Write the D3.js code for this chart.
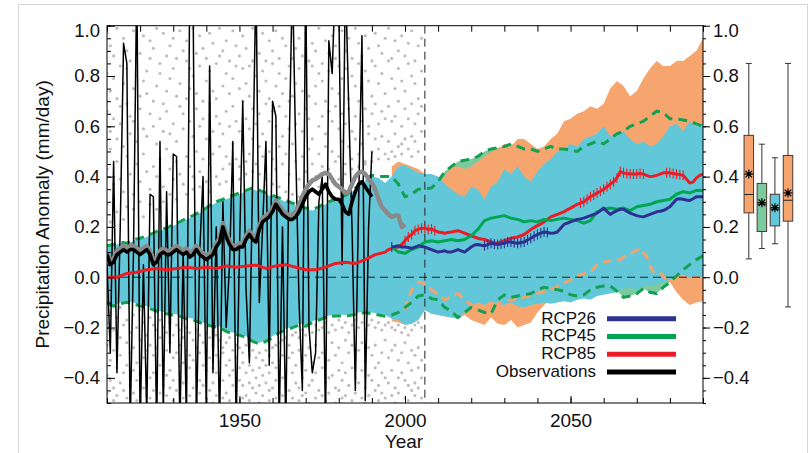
<!DOCTYPE html>
<html>
<head>
<meta charset="utf-8">
<script src="https://cdn.jsdelivr.net/npm/d3@7"></script>
<style>
  html, body { margin: 0; padding: 0; background: #fff; }
  svg { display: block; font-family: "Liberation Sans", Arial, Helvetica, sans-serif; }
</style>
</head>
<body>
<svg id="chart" width="810" height="453"></svg>
<script>
// ---------------- data ----------------
const yTickLabels = [-0.4, -0.2, 0.0, 0.2, 0.4, 0.6, 0.8, 1.0];
const xTickLabels = [1950, 2000, 2050];
const projectionStart = 2006;

// Individual model years (hundredths of mm/day), one string per year from 1910
const dotStart = 1910;
const dotColumns = [
  "97 81 66 43 29 -18 -27 -39 -46", "92 74 58 51 22 -14 -33 -41", "88 79 63 37 31 -21 -29 -44 -49",
  "99 71 55 46 26 -16 -36 -47", "84 68 61 39 -12 -24 -31 -42", "95 77 52 34 23 -19 -38 -45",
  "90 83 69 48 28 -17 -26 -35 -48", "86 64 57 41 -22 -30 -43", "98 75 62 33 27 -15 -28 -37 -46",
  "93 80 54 45 -20 -34 -41 -49", "89 72 67 38 30 -13 -25 -39", "96 78 59 49 24 -18 -32 -44",
  "82 73 56 42 -23 -29 -36 -47", "94 87 65 35 29 -16 -27 -40 -48", "91 70 60 44 -19 -31 -38 -45",
  "99 76 53 40 27 -21 -28 -42", "85 81 63 47 -17 -24 -35 -46 -50", "97 69 58 36 30 -20 -33 -43",
  "88 74 66 51 -22 -29 -39 -47", "92 79 57 43 33 -18 -26 -37 -44", "95 83 61 39 -23 -32 -41 -49",
  "87 72 54 46 31 -19 -30 -45", "98 77 68 41 -21 -27 -38 -46", "90 65 59 37 -24 -34 -42 -48",
  "94 86 71 48 33 -20 -29 -40", "83 75 62 44 -22 -31 -36 -47", "99 80 56 40 35 -25 -33 -44",
  "89 73 67 50 -21 -28 -39 -49", "96 84 60 42 36 -23 -30 -41 -46", "91 70 63 47 -26 -35 -43",
  "87 78 55 38 -22 -29 -37 -48", "97 82 69 45 34 -24 -32 -45", "93 74 58 49 -27 -36 -42 -50",
  "85 71 64 40 -23 -31 -38 -47", "99 88 61 52 37 -25 -34 -44", "90 76 57 43 -28 -30 -41 -48",
  "94 81 66 48 38 -26 -35 -46", "86 73 60 45 -24 -33 -39 -49", "98 79 68 53 40 -29 -37 -43",
  "92 84 62 47 -27 -32 -45 -50", "88 75 58 44 39 -28 -36 -41", "96 83 70 50 -30 -34 -43 -48",
  "91 77 63 46 41 -27 -38 -47", "84 72 59 49 -31 -35 -42 -49", "99 86 67 55 42 -29 -37 -44",
  "93 80 61 45 -32 -40 -46", "89 74 65 52 41 -30 -36 -43 -50", "97 82 57 48 -33 -39 -47",
  "86 78 69 44 39 -29 -35 -42", "94 71 62 50 -31 -38 -45 -49", "90 85 66 47 37 -28 -34 -44",
  "98 76 60 43 -27 -36 -41 -48", "87 81 68 52 36 -26 -33 -46", "95 73 56 45 -25 -31 -40 -47",
  "92 79 64 49 34 -24 -37 -43 -50", "84 70 59 41 -27 -32 -45", "99 87 72 53 33 -23 -30 -38 -48",
  "91 77 61 46 -22 -35 -42", "95 83 65 39 32 -24 -29 -44 -49", "88 74 58 48 -21 -33 -40 -47",
  "97 80 67 42 34 -23 -31 -37 -46", "86 72 63 51 -20 -28 -43 -50", "93 84 55 45 35 -22 -34 -41",
  "90 76 69 40 -19 -27 -38 -48", "99 81 60 49 36 -21 -32 -45", "85 78 64 44 -20 -30 -36 -47",
  "94 70 57 52 37 -18 -29 -42 -49", "89 82 66 43 -22 -33 -40 -46", "96 75 62 50 38 -19 -26 -39",
  "92 87 68 46 -21 -31 -44 -50", "84 73 59 48 39 -17 -28 -37 -45", "98 79 65 54 -20 -34 -41 -48",
  "90 83 61 45 41 -18 -25 -38 -47", "95 71 67 52 -22 -30 -43", "87 80 58 47 43 -19 -27 -36 -49",
  "99 76 64 55 -17 -32 -40 -46", "93 85 70 49 44 -20 -29 -42", "88 74 62 53 -18 -26 -37 -48",
  "96 82 67 46 45 -21 -33 -44 -50", "91 78 60 57 -19 -28 -39 -47", "86 72 65 50 46 -17 -31 -41",
  "97 84 69 55 -20 -27 -36 -45", "92 77 61 51 47 -18 -34 -43 -49", "89 81 66 56 -21 -30 -38 -46",
  "95 73 63 49 -19 -25 -40 -48", "99 86 68 54 47 -18 -32 -42", "87 79 62 50 -20 -29 -37 -47",
  "94 75 64 57 48 -21 -27 -44 -50", "90 83 70 52 -19 -33 -40 -46", "96 78 60 53 49 -22 -30 -38",
  "88 74 67 55 -20 -26 -41 -48", "93 85 63 51 -23 -34 -43 -49", "98 80 69 56 48 -21 -29 -37 -45",
  "86 77 61 54 -19 -31 -42 -47", "92 71 65 50 -18 -28 -36 -44", "95 82 68 58 -20 -33 -40 -48"
];

// Ensemble ranges, two-year steps from 1910 to 2090
const bandStart = 1910, bandStep = 2;
const rcp26Hi = [0.12,0.125,0.135,0.13,0.145,0.15,0.16,0.17,0.185,0.19,0.205,0.215,0.23,0.24,0.255,0.27,0.29,0.30,0.31,0.32,
  0.33,0.34,0.35,0.34,0.33,0.32,0.31,0.30,0.29,0.28,0.27,0.265,0.275,0.29,0.30,0.31,0.32,0.34,0.36,0.385,
  0.40,0.395,0.375,0.40,0.44,0.445,0.43,0.415,0.41,0.41,0.40,0.37,0.35,0.33,0.32,0.36,0.35,0.31,0.36,0.38,
  0.43,0.41,0.44,0.40,0.38,0.42,0.45,0.47,0.50,0.51,0.53,0.52,0.55,0.56,0.57,0.60,0.56,0.57,0.58,0.55,
  0.53,0.54,0.52,0.53,0.56,0.60,0.61,0.58,0.62,0.60,0.61];
const rcp26Lo = [-0.10,-0.11,-0.10,-0.095,-0.10,-0.11,-0.115,-0.125,-0.135,-0.14,-0.145,-0.15,-0.16,-0.165,-0.175,-0.185,-0.19,-0.195,-0.21,-0.22,
  -0.225,-0.235,-0.25,-0.26,-0.25,-0.235,-0.215,-0.205,-0.195,-0.185,-0.19,-0.175,-0.165,-0.155,-0.15,-0.148,-0.15,-0.145,-0.14,-0.135,
  -0.14,-0.145,-0.15,-0.165,-0.17,-0.19,-0.185,-0.17,-0.13,-0.145,-0.15,-0.155,-0.16,-0.165,-0.14,-0.115,-0.10,-0.11,-0.095,-0.105,
  -0.11,-0.10,-0.115,-0.12,-0.11,-0.105,-0.10,-0.105,-0.10,-0.095,-0.10,-0.09,-0.085,-0.09,-0.075,-0.07,-0.065,-0.06,-0.045,-0.04,
  -0.05,-0.035,-0.035,-0.025,-0.02,-0.01,0.005,0.01,0.0,0.005,0.0];
const rcp45Hi = [0.125,0.13,0.14,0.135,0.15,0.155,0.165,0.175,0.19,0.195,0.21,0.22,0.235,0.245,0.26,0.275,0.295,0.305,0.315,0.325,
  0.335,0.345,0.355,0.345,0.335,0.325,0.315,0.305,0.295,0.285,0.275,0.27,0.28,0.295,0.305,0.315,0.325,0.345,0.365,0.39,
  0.405,0.40,0.40,0.40,0.37,0.32,0.33,0.35,0.35,0.355,0.38,0.42,0.44,0.46,0.465,0.47,0.48,0.50,0.51,0.515,
  0.52,0.53,0.52,0.51,0.51,0.50,0.51,0.52,0.51,0.51,0.505,0.50,0.52,0.53,0.54,0.53,0.55,0.57,0.58,0.60,
  0.61,0.62,0.64,0.66,0.655,0.63,0.63,0.625,0.62,0.61,0.60];
const rcp45Lo = [-0.105,-0.115,-0.105,-0.10,-0.105,-0.115,-0.12,-0.13,-0.14,-0.145,-0.15,-0.155,-0.165,-0.17,-0.18,-0.19,-0.195,-0.20,-0.215,-0.225,
  -0.23,-0.24,-0.255,-0.265,-0.255,-0.24,-0.22,-0.21,-0.20,-0.19,-0.195,-0.18,-0.17,-0.16,-0.155,-0.153,-0.155,-0.15,-0.145,-0.14,
  -0.145,-0.15,-0.155,-0.15,-0.14,-0.12,-0.10,-0.075,-0.07,-0.085,-0.09,-0.12,-0.135,-0.16,-0.14,-0.12,-0.13,-0.14,-0.145,-0.09,
  -0.07,-0.08,-0.075,-0.07,-0.065,-0.05,-0.04,-0.045,-0.05,-0.055,-0.07,-0.075,-0.07,-0.05,-0.04,-0.035,-0.035,-0.055,-0.08,-0.075,
  -0.065,-0.045,-0.06,-0.065,-0.04,-0.02,0.005,0.03,0.05,0.07,0.085];
// RCP8.5 range from 1996 to 2090 (two-year steps)
const rcp85Start = 1996;
const rcp85Hi = [0.44,0.46,0.45,0.44,0.43,0.41,0.39,0.38,0.40,0.44,0.44,0.43,0.44,0.46,0.48,0.50,0.51,0.53,0.52,0.55,
  0.55,0.53,0.51,0.52,0.55,0.57,0.62,0.63,0.65,0.66,0.68,0.67,0.69,0.75,0.78,0.76,0.72,0.74,0.79,0.83,
  0.86,0.84,0.84,0.86,0.86,0.88,0.90,0.95];
const rcp85Lo = [-0.175,-0.18,-0.19,-0.185,-0.17,-0.13,-0.145,-0.15,-0.155,-0.16,-0.165,-0.15,-0.17,-0.18,-0.19,-0.16,-0.185,-0.19,-0.17,-0.20,
  -0.19,-0.18,-0.14,-0.11,-0.09,-0.085,-0.08,-0.07,-0.07,-0.06,-0.06,-0.055,-0.05,-0.045,-0.04,-0.03,-0.03,-0.03,-0.025,-0.02,
  -0.015,-0.005,-0.02,-0.06,-0.09,-0.11,-0.10,-0.095];
// Secondary RCP8.5 bound (dashed)
const rcp85DashYears = [2000,2001,2002,2003,2004,2005,2006,2008,2010,2012,2014,2016,2018,2020,2023,2026,2029,2032,2035,2038,2041,2044,2047,2050,2053,2056,2058,2060,2063,2065,2067,2069,2071,2073,2075,2077,2079];
const rcp85DashVals = [-0.13,-0.09,-0.05,-0.03,-0.02,-0.02,-0.03,-0.05,-0.07,-0.09,-0.075,-0.065,-0.09,-0.11,-0.13,-0.12,-0.10,-0.09,-0.085,-0.07,-0.06,-0.05,-0.03,-0.01,0.01,0.02,0.05,0.06,0.07,0.07,0.09,0.10,0.115,0.08,0.02,0.02,-0.01];

// Multi-model means
const meanRcp85 = [[1910,0.0],[1913,0.0],[1916,0.015],[1919,0.02],[1922,0.03],[1925,0.035],[1928,0.03],[1931,0.035],[1934,0.04],[1937,0.035],
  [1940,0.04],[1943,0.035],[1946,0.045],[1949,0.04],[1952,0.045],[1955,0.048],[1958,0.035],[1961,0.045],[1964,0.05],[1967,0.04],
  [1970,0.03],[1973,0.03],[1976,0.04],[1979,0.055],[1982,0.06],[1985,0.055],[1988,0.07],[1991,0.09],[1994,0.10],[1995,0.11],
  [1996,0.115],[1997,0.118],[1998,0.12],[1999,0.13],[2000,0.145],[2001,0.16],[2002,0.17],[2003,0.185],[2004,0.19],[2005,0.195],
  [2006,0.195],[2007,0.19],[2008,0.192],[2009,0.185],[2010,0.18],[2011,0.178],[2012,0.175],[2013,0.178],[2014,0.18],[2015,0.183],
  [2016,0.185],[2017,0.18],[2018,0.175],[2019,0.17],[2020,0.165],[2021,0.16],[2022,0.155],[2023,0.152],[2024,0.15],[2025,0.145],
  [2026,0.14],[2027,0.137],[2028,0.135],[2029,0.14],[2030,0.145],[2031,0.15],[2032,0.155],[2033,0.158],[2034,0.16],[2035,0.165],
  [2036,0.17],[2037,0.18],[2038,0.19],[2039,0.198],[2040,0.205],[2041,0.212],[2042,0.22],[2043,0.23],[2044,0.24],[2045,0.245],
  [2046,0.25],[2047,0.255],[2048,0.26],[2049,0.268],[2050,0.275],[2051,0.282],[2052,0.29],[2053,0.295],[2054,0.30],[2055,0.31],
  [2056,0.32],[2057,0.327],[2058,0.335],[2059,0.342],[2060,0.35],[2061,0.36],[2062,0.37],[2063,0.38],[2064,0.395],[2065,0.42],
  [2066,0.415],[2067,0.412],[2068,0.41],[2069,0.41],[2070,0.41],[2071,0.412],[2072,0.41],[2073,0.405],[2074,0.40],[2075,0.402],
  [2076,0.405],[2077,0.41],[2078,0.415],[2079,0.415],[2080,0.415],[2081,0.412],[2082,0.41],[2083,0.408],[2084,0.405],[2085,0.39],
  [2086,0.375],[2087,0.378],[2088,0.395],[2089,0.405],[2090,0.41]];
const meanRcp26 = [[1996,0.12],[1997,0.122],[1998,0.125],[1999,0.12],[2000,0.12],[2001,0.118],[2002,0.115],[2003,0.12],[2004,0.125],[2005,0.122],
  [2006,0.12],[2007,0.115],[2008,0.11],[2009,0.105],[2010,0.10],[2011,0.102],[2012,0.105],[2013,0.10],[2014,0.10],[2015,0.105],
  [2016,0.11],[2017,0.105],[2018,0.10],[2019,0.11],[2020,0.12],[2021,0.128],[2022,0.13],[2023,0.127],[2024,0.125],[2025,0.13],
  [2026,0.135],[2027,0.132],[2028,0.13],[2029,0.133],[2030,0.135],[2031,0.14],[2032,0.14],[2033,0.137],[2034,0.135],[2035,0.138],
  [2036,0.14],[2037,0.148],[2038,0.155],[2039,0.163],[2040,0.17],[2041,0.175],[2042,0.18],[2043,0.178],[2044,0.175],[2045,0.176],
  [2046,0.18],[2047,0.195],[2048,0.21],[2049,0.215],[2050,0.22],[2051,0.225],[2052,0.23],[2053,0.232],[2054,0.235],[2055,0.24],
  [2056,0.245],[2057,0.25],[2058,0.255],[2059,0.265],[2060,0.275],[2061,0.262],[2062,0.25],[2063,0.258],[2064,0.265],[2065,0.27],
  [2066,0.27],[2067,0.262],[2068,0.255],[2069,0.25],[2070,0.245],[2071,0.242],[2072,0.24],[2073,0.245],[2074,0.25],[2075,0.255],
  [2076,0.26],[2077,0.262],[2078,0.265],[2079,0.272],[2080,0.28],[2081,0.295],[2082,0.31],[2083,0.312],[2084,0.31],[2085,0.307],
  [2086,0.305],[2087,0.312],[2088,0.32],[2089,0.32],[2090,0.32]];
const meanRcp45 = [[1996,0.12],[1998,0.10],[2000,0.095],[2002,0.11],[2004,0.12],[2006,0.14],[2008,0.145],[2010,0.14],[2012,0.145],[2014,0.15],
  [2016,0.145],[2018,0.15],[2020,0.165],[2022,0.19],[2024,0.225],[2026,0.235],[2028,0.24],[2030,0.245],[2032,0.235],[2034,0.23],
  [2036,0.22],[2038,0.225],[2040,0.22],[2042,0.23],[2044,0.225],[2046,0.23],[2048,0.235],[2050,0.23],[2052,0.225],[2054,0.215],
  [2056,0.225],[2058,0.26],[2060,0.27],[2062,0.275],[2064,0.27],[2066,0.275],[2068,0.265],[2070,0.28],[2072,0.285],[2074,0.29],
  [2076,0.30],[2078,0.305],[2080,0.31],[2082,0.33],[2084,0.34],[2086,0.335],[2088,0.345],[2090,0.345]];
// Years where the mean change is significant (+ markers)
const rcp85Significant = [[2000,2009],[2053,2072],[2079,2084]];
const rcp26Significant = [[1996,1996],[2024,2043]];

// Observations, annual from 1910
const obsStart = 1910;
const obsAnnual = [0.05,-0.30,0.46,-0.38,0.20,0.93,0.85,-0.60,0.10,1.20,
  -0.60,0.05,-0.55,0.33,0.32,-0.62,0.54,-0.55,0.34,-0.30,
  0.49,0.48,-0.60,0.10,-0.58,1.20,1.10,-0.58,0.10,0.40,
  -0.55,0.84,-0.38,0.20,-0.60,0.30,-0.20,0.05,0.54,-0.60,
  0.10,0.70,-0.05,-0.34,0.40,1.20,-0.10,0.20,0.54,-0.35,
  0.70,0.64,-0.60,0.20,-0.60,0.50,1.20,0.50,-0.10,-0.45,
  1.20,-0.20,-0.38,-0.30,0.30,0.40,-0.60,0.94,0.81,1.20,
  1.10,0.05,1.20,0.68,0.20,-0.45,0.30,0.96,-0.49,0.20,0.50];
const obsSmooth = [0.09,0.05,0.06,0.09,0.10,0.11,0.10,0.11,0.11,0.10,
  0.09,0.10,0.11,0.09,0.05,0.06,0.09,0.10,0.09,0.09,
  0.10,0.11,0.10,0.09,0.10,0.08,0.09,0.11,0.09,0.08,
  0.07,0.08,0.09,0.12,0.14,0.20,0.16,0.13,0.11,0.11,
  0.12,0.12,0.15,0.17,0.15,0.14,0.19,0.22,0.23,0.24,
  0.26,0.29,0.27,0.25,0.24,0.23,0.23,0.24,0.26,0.29,
  0.32,0.34,0.35,0.34,0.33,0.35,0.37,0.34,0.32,0.31,
  0.31,0.29,0.26,0.25,0.30,0.34,0.37,0.38,0.36,0.34,0.32];
const obsSmoothAlt = [0.10,0.065,0.075,0.105,0.115,0.125,0.115,0.125,0.125,0.115,
  0.105,0.115,0.125,0.105,0.07,0.075,0.105,0.115,0.105,0.105,
  0.115,0.125,0.115,0.105,0.115,0.095,0.105,0.125,0.105,0.095,
  0.085,0.095,0.105,0.135,0.155,0.215,0.175,0.145,0.125,0.125,
  0.135,0.135,0.165,0.185,0.165,0.155,0.205,0.235,0.245,0.255,
  0.275,0.305,0.285,0.265,0.255,0.245,0.25,0.26,0.29,0.32,
  0.35,0.37,0.385,0.39,0.40,0.41,0.415,0.41,0.39,0.37,
  0.36,0.35,0.335,0.34,0.37,0.40,0.415,0.42,0.41,0.39,
  0.375,0.35,0.31,0.28,0.265,0.25,0.24,0.245,0.245,0.20,0.21];

// Box plots of the late-century change
const boxNames = ["RCP85", "RCP45", "RCP26", "Models"];
const boxLow = [0.073, 0.114, 0.133, -0.118];
const boxQ1 = [0.256, 0.182, 0.204, 0.223];
const boxMedian = [0.329, 0.29, 0.27, 0.306];
const boxQ3 = [0.564, 0.373, 0.330, 0.484];
const boxHigh = [0.85, 0.529, 0.475, 0.85];
const boxMean = [0.41, 0.296, 0.276, 0.335];

const legendNames = ["RCP26", "RCP45", "RCP85", "Observations"];

// ---------------- styles ----------------
const C = {
  cyan: "#62c8d9", orange: "#f7a56f", greenFill: "#7ccaa0",
  green: "#00a651", blue: "#2e3192", red: "#ed1c24", black: "#000",
  grayLine: "#8a8a8a", dot: "#bdbdbd", orangeDash: "#f4a26c", greenDash: "#12a150"
};
const legendColors = [C.blue, C.green, C.red, C.black];
const boxFill = [C.orange, C.greenFill, C.cyan, C.orange];

// ---------------- layout ----------------
const svg = d3.select("#chart");
const M = { left: 107, right: 703, top: 25.7, bottom: 403 };
const x = d3.scaleLinear().domain([1910, 2090]).range([M.left, M.right]);
const y = d3.scaleLinear().domain([-0.5, 1.0]).range([M.bottom, M.top]);

// outer light frame
svg.append("rect").attr("x", 18.5).attr("y", 4.5).attr("width", 789).attr("height", 480)
  .attr("fill", "none").attr("stroke", "#d6d6d6").attr("stroke-width", 1);

svg.append("clipPath").attr("id", "plotClip").append("rect")
  .attr("x", M.left).attr("y", M.top).attr("width", M.right - M.left).attr("height", M.bottom - M.top);
const plot = svg.append("g").attr("clip-path", "url(#plotClip)");

// gray model dots
const dots = [];
dotColumns.forEach((s, i) => s.split(" ").forEach(v => dots.push([dotStart + i, +v / 100])));
plot.append("g").selectAll("circle").data(dots).join("circle")
  .attr("cx", d => x(d[0])).attr("cy", d => y(d[1])).attr("r", 1.55).attr("fill", C.dot);

// ranges
const band = rcp26Hi.map((h, i) => ({ yr: bandStart + i * bandStep, lo: rcp26Lo[i], hi: h, lo45: rcp45Lo[i], hi45: rcp45Hi[i] }));
const band85 = rcp85Hi.map((h, i) => ({ yr: rcp85Start + i * bandStep, lo: rcp85Lo[i], hi: h }));

plot.append("path").datum(band.filter(d => d.yr >= 1996))
  .attr("fill", C.greenFill)
  .attr("d", d3.area().x(d => x(d.yr)).y0(d => y(d.lo45)).y1(d => y(d.hi45)));
plot.append("path").datum(band85)
  .attr("fill", C.orange)
  .attr("d", d3.area().x(d => x(d.yr)).y0(d => y(d.lo)).y1(d => y(d.hi)));
plot.append("path").datum(band)
  .attr("fill", C.cyan)
  .attr("d", d3.area().x(d => x(d.yr)).y0(d => y(d.lo)).y1(d => y(d.hi)));

// dashed range edges
const line = d3.line().x(d => x(d[0])).y(d => y(d[1]));
plot.append("path").datum(rcp85DashYears.map((yr, i) => [yr, rcp85DashVals[i]]))
  .attr("fill", "none").attr("stroke", C.orangeDash).attr("stroke-width", 3)
  .attr("stroke-dasharray", "9,6").attr("d", line);
["hi45", "lo45"].forEach(k => {
  plot.append("path").datum(band.map(d => [d.yr, d[k]]))
    .attr("fill", "none").attr("stroke", C.greenDash).attr("stroke-width", 3)
    .attr("stroke-dasharray", "9,6").attr("d", line);
});

// reference lines
plot.append("line").attr("x1", x(1910)).attr("x2", x(2090)).attr("y1", y(0)).attr("y2", y(0))
  .attr("stroke", "#222").attr("stroke-width", 1).attr("stroke-dasharray", "8,5");
plot.append("line").attr("x1", x(projectionStart)).attr("x2", x(projectionStart)).attr("y1", M.top).attr("y2", M.bottom)
  .attr("stroke", "#222").attr("stroke-width", 1).attr("stroke-dasharray", "8,5");

// observations, annual
plot.append("path").datum(obsAnnual.map((v, i) => [obsStart + i, v]))
  .attr("fill", "none").attr("stroke", C.black).attr("stroke-width", 1.5).attr("stroke-linejoin", "round").attr("d", line);

// multi-model means
function meanLine(data, color, sig) {
  plot.append("path").datum(data).attr("fill", "none").attr("stroke", color)
    .attr("stroke-width", 3).attr("stroke-linejoin", "round").attr("d", line);
  if (sig) {
    const pts = data.filter(d => sig.some(r => d[0] >= r[0] && d[0] <= r[1]));
    plot.append("g").selectAll("line").data(pts).join("line")
      .attr("x1", d => x(d[0])).attr("x2", d => x(d[0]))
      .attr("y1", d => y(d[1]) - 5).attr("y2", d => y(d[1]) + 5)
      .attr("stroke", color).attr("stroke-width", 1.1);
  }
}
meanLine(meanRcp85, C.red, rcp85Significant);
meanLine(meanRcp45, C.green, null);
meanLine(meanRcp26, C.blue, rcp26Significant);

// observations, smoothed
plot.append("path").datum(obsSmoothAlt.map((v, i) => [obsStart + i, v]))
  .attr("fill", "none").attr("stroke", C.grayLine).attr("stroke-width", 4.5).attr("stroke-linejoin", "round").attr("d", line);
plot.append("path").datum(obsSmooth.map((v, i) => [obsStart + i, v]))
  .attr("fill", "none").attr("stroke", C.black).attr("stroke-width", 3.6).attr("stroke-linejoin", "round").attr("d", line);

// ---------------- axes ----------------
const fmt = d3.format(".1f");
const minorY = d3.range(-10, 21).map(k => k * 0.05);
const decades = d3.range(1910, 2091, 10);

function styleAxis(g) {
  g.select(".domain").remove();
  g.selectAll("line").attr("stroke", "#000").attr("stroke-width", 1);
  g.selectAll("text").attr("fill", "#111").style("font-size", "18.5px").style("font-family", "'Liberation Sans', Arial, sans-serif");
}
// left
svg.append("g").attr("transform", `translate(${M.left},0)`)
  .call(d3.axisLeft(y).tickValues(minorY).tickSize(-4).tickFormat("")).call(styleAxis);
svg.append("g").attr("transform", `translate(${M.left},0)`)
  .call(d3.axisLeft(y).tickValues(yTickLabels).tickSize(-8).tickPadding(7).tickFormat(fmt)).call(styleAxis)
  .selectAll("text").filter(d => d === 1.0).attr("dy", "0.6em");
// right
svg.append("g").attr("transform", `translate(${M.right},0)`)
  .call(d3.axisRight(y).tickValues(minorY).tickSize(3).tickFormat("")).call(styleAxis);
svg.append("g").attr("transform", `translate(${M.right},0)`)
  .call(d3.axisRight(y).tickValues(yTickLabels).tickSize(7).tickPadding(3).tickFormat(fmt)).call(styleAxis)
  .selectAll("text").filter(d => d === 1.0).attr("dy", "0.6em");
// bottom & top
svg.append("g").attr("transform", `translate(0,${M.bottom})`)
  .call(d3.axisBottom(x).tickValues(decades).tickSize(-5).tickFormat("")).call(styleAxis);
svg.append("g").attr("transform", `translate(0,${M.bottom})`)
  .call(d3.axisBottom(x).tickValues(xTickLabels).tickSize(-7).tickPadding(11).tickFormat(d3.format("d"))).call(styleAxis)
  .selectAll("text").style("font-size", "19px");
svg.append("g").attr("transform", `translate(0,${M.top})`)
  .call(d3.axisTop(x).tickValues(decades).tickSize(-6).tickFormat("")).call(styleAxis);

// plot frame
svg.append("rect").attr("x", M.left).attr("y", M.top).attr("width", M.right - M.left).attr("height", M.bottom - M.top)
  .attr("fill", "none").attr("stroke", "#000").attr("stroke-width", 1);

// titles
svg.append("text").attr("x", 404).attr("y", 448).attr("text-anchor", "middle")
  .style("font-size", "19px").attr("fill", "#111").text("Year");
svg.append("text").attr("transform", `translate(48.5,${(M.top + M.bottom) / 2}) rotate(-90)`)
  .attr("text-anchor", "middle").style("font-size", "19px").attr("fill", "#111")
  .text("Precipitation Anomaly (mm/day)");

// ---------------- legend ----------------
const legend = svg.append("g");
legendNames.forEach((name, i) => {
  const ly = 318.7 + i * 17.8;
  legend.append("text").attr("x", 596).attr("y", ly + 4.8).attr("text-anchor", "end")
    .style("font-size", "17px").attr("fill", "#111").text(name);
  legend.append("line").attr("x1", 607).attr("x2", 676).attr("y1", ly).attr("y2", ly)
    .attr("stroke", legendColors[i]).attr("stroke-width", 5);
});

// ---------------- box plots ----------------
const bx = d3.scalePoint().domain(boxNames).range([748.8, 788]);
const bw = 9.5;
const boxes = svg.append("g");
boxNames.forEach((n, i) => {
  const cx = bx(n);
  const g = boxes.append("g");
  g.append("line").attr("x1", cx).attr("x2", cx).attr("y1", y(boxHigh[i])).attr("y2", y(boxLow[i]))
    .attr("stroke", "#333").attr("stroke-width", 1);
  [boxHigh[i], boxLow[i]].forEach(v => g.append("line").attr("x1", cx - 3).attr("x2", cx + 3)
    .attr("y1", y(v)).attr("y2", y(v)).attr("stroke", "#333").attr("stroke-width", 1));
  g.append("rect").attr("x", cx - bw / 2).attr("y", y(boxQ3[i])).attr("width", bw)
    .attr("height", y(boxQ1[i]) - y(boxQ3[i])).attr("fill", boxFill[i]).attr("stroke", "#4a3a30").attr("stroke-width", 1);
  g.append("line").attr("x1", cx - bw / 2).attr("x2", cx + bw / 2).attr("y1", y(boxMedian[i])).attr("y2", y(boxMedian[i]))
    .attr("stroke", "#222").attr("stroke-width", 1);
  const my = y(boxMean[i]);
  [[-4.5, 0, 4.5, 0], [0, -4.5, 0, 4.5], [-3.3, -3.3, 3.3, 3.3], [-3.3, 3.3, 3.3, -3.3]].forEach(a =>
    g.append("line").attr("x1", cx + a[0]).attr("y1", my + a[1]).attr("x2", cx + a[2]).attr("y2", my + a[3])
      .attr("stroke", "#000").attr("stroke-width", 1.2));
  g.append("circle").attr("cx", cx).attr("cy", my).attr("r", 2).attr("fill", "#000");
});
</script>
</body>
</html>
